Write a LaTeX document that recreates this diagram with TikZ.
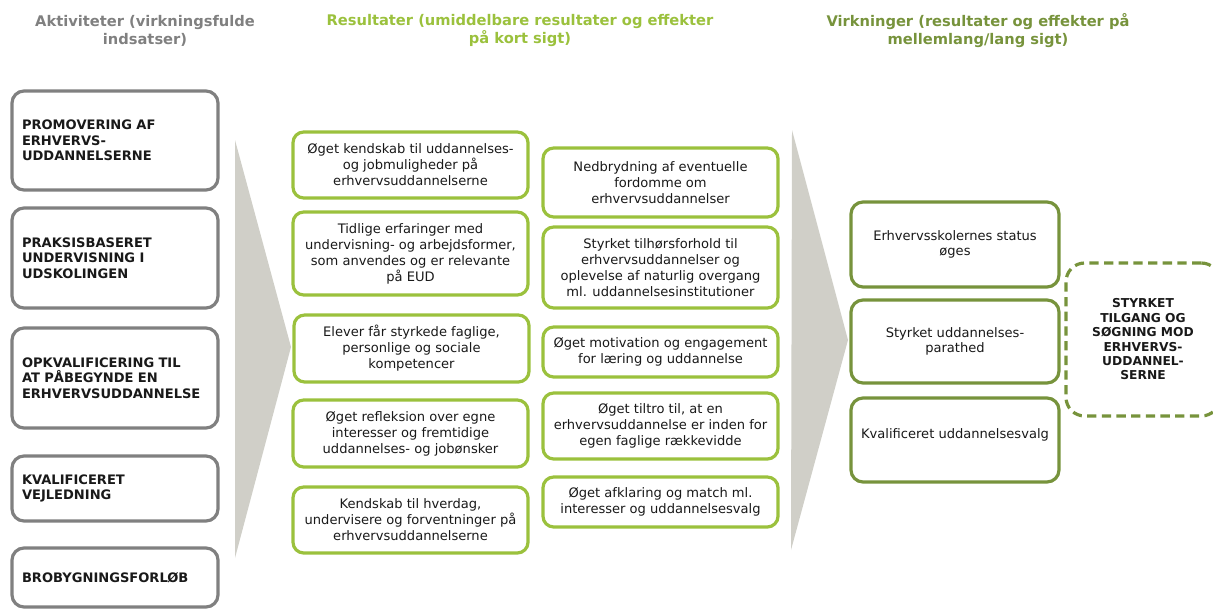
\documentclass[tikz,border=0pt]{standalone}
\usepackage{fontspec}
\setmainfont{DejaVu Sans}
\definecolor{boxgray}{RGB}{128,128,128}
\definecolor{lgreen}{RGB}{155,193,61}
\definecolor{dgreen}{RGB}{119,147,60}
\definecolor{wedge}{RGB}{208,207,200}
\definecolor{txt}{RGB}{25,25,25}
\begin{document}
\begin{tikzpicture}[x=0.75pt,y=-0.75pt,
  hdr/.style={font=\fontsize{11}{13.5}\selectfont\bfseries, align=center},
  actbox/.style={draw=boxgray, line width=2.4pt, rounded corners=9pt, fill=white,
    minimum width=154.5pt, text width=139.5pt, inner xsep=7.5pt, align=left,
    text=txt, font=\fontsize{9.8}{11.5}\selectfont\bfseries},
  resbox/.style={draw=lgreen, line width=2.4pt, rounded corners=8pt, fill=white,
    minimum width=176.25pt, align=center, text=txt, font=\fontsize{9.8}{12}\selectfont},
  effbox/.style={draw=dgreen, line width=2.4pt, rounded corners=9pt, fill=white,
    minimum width=156pt, align=center, text=txt, font=\fontsize{9.8}{11.5}\selectfont},
  goalbox/.style={draw=dgreen, line width=2.4pt, dash pattern=on 7pt off 4pt, rounded corners=14pt,
    minimum width=115.5pt, minimum height=114.75pt, align=center, text=txt,
    font=\fontsize{9.2}{10.8}\selectfont\bfseries}]
\useasboundingbox (0,0) rectangle (1213,610);
% wedges
\fill[wedge] (235,140) -- (291,347) -- (235,558) -- cycle;
\fill[wedge] (792,130) -- (848,340) -- (791,550) -- cycle;
% headers
\node[hdr, text=boxgray] (h1) at (145,31) {Aktiviteter (virkningsfulde\\indsatser)};
\node[hdr, text=lgreen] (h2) at (520,31) {Resultater (umiddelbare resultater og effekter\\på kort sigt)};
\node[hdr, text=dgreen] (h3) at (978,31) {Virkninger (resultater og effekter på\\mellemlang/lang sigt)};
% activities
\node[actbox, minimum height=74.25pt] (a1) at (115,140.5) {PROMOVERING AF\\ERHVERVS-\\UDDANNELSERNE};
\node[actbox, minimum height=75pt] (a2) at (115,258) {PRAKSISBASERET\\UNDERVISNING I\\UDSKOLINGEN};
\node[actbox, minimum height=75pt] (a3) at (115,378) {OPKVALIFICERING TIL\\AT PÅBEGYNDE EN\\ERHVERVSUDDANNELSE};
\node[actbox, minimum height=48.75pt] (a4) at (115,488.5) {KVALIFICERET\\VEJLEDNING};
\node[actbox, minimum height=44.25pt] (a5) at (115,577.5) {BROBYGNINGSFORLØB};
% results column 1
\node[resbox, minimum height=49.5pt] (r1) at (410.5,165) {Øget kendskab til uddannelses-\\og jobmuligheder på\\erhvervsuddannelserne};
\node[resbox, minimum height=62.25pt] (r2) at (410.5,253.5) {Tidlige erfaringer med\\undervisning- og arbejdsformer,\\som anvendes og er relevante\\på EUD};
\node[resbox, minimum height=50.25pt] (r3) at (411.5,348.5) {Elever får styrkede faglige,\\personlige og sociale\\kompetencer};
\node[resbox, minimum height=50.25pt] (r4) at (410.5,433.5) {Øget refleksion over egne\\interesser og fremtidige\\uddannelses- og jobønsker};
\node[resbox, minimum height=49.5pt] (r5) at (410.5,520) {Kendskab til hverdag,\\undervisere og forventninger på\\erhvervsuddannelserne};
% results column 2
\node[resbox, minimum height=51.75pt] (s1) at (660.5,182.5) {Nedbrydning af eventuelle\\fordomme om\\erhvervsuddannelser};
\node[resbox, minimum height=60.75pt] (s2) at (660.5,267.5) {Styrket tilhørsforhold til\\erhvervsuddannelser og\\oplevelse af naturlig overgang\\ml. uddannelsesinstitutioner};
\node[resbox, minimum height=37.5pt] (s3) at (660.5,352) {Øget motivation og engagement\\for læring og uddannelse};
\node[resbox, minimum height=49.5pt] (s4) at (660.5,426) {Øget tiltro til, at en\\erhvervsuddannelse er inden for\\egen faglige rækkevidde};
\node[resbox, minimum height=37.5pt] (s5) at (660.5,502) {Øget afklaring og match ml.\\interesser og uddannelsesvalg};
% effects
\node[effbox, minimum height=63.75pt] (e1) at (955,244.5) {Erhvervsskolernes status\\øges};
\node[effbox, minimum height=62.25pt] (e2) at (955,341.5) {Styrket uddannelses-\\parathed};
\node[effbox, minimum height=63pt, text depth=9pt] (e3) at (955,440) {Kvalificeret uddannelsesvalg};
% goal
\node[goalbox] (g) at (1143,339.5) {STYRKET\\TILGANG OG\\SØGNING MOD\\ERHVERVS-\\UDDANNEL-\\SERNE};
\end{tikzpicture}
\end{document}
